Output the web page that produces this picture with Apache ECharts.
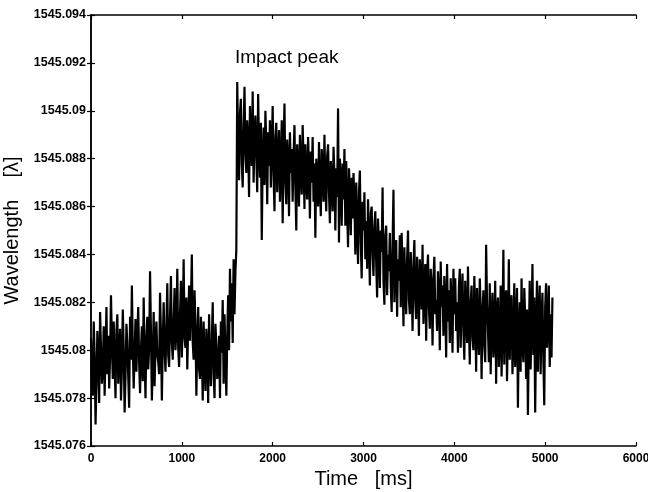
<!DOCTYPE html>
<html>
<head>
<meta charset="utf-8">
<script src="https://cdn.jsdelivr.net/npm/echarts@6/dist/echarts.min.js"></script>
<style>html,body{margin:0;padding:0;background:#fff;}#c{width:648px;height:492px;}</style>
</head>
<body>
<div id="c"></div>
<script>
// sampling interval of the read-off trace (ms)
const sampleMs = 10;

// Segment start times (ms) and wavelength values
const segA_start = 0;     // before impact (0 .. 1600 ms)
const segA = [
1545.0805,1545.0790,1545.0781,1545.0812,1545.0798,1545.0769,1545.0786,1545.0808,1545.0795,1545.0778,
1545.0816,1545.0801,1545.0786,1545.0793,1545.0810,1545.0781,1545.0799,1545.0818,1545.0790,1545.0806,
1545.0784,1545.0797,1545.0823,1545.0803,1545.0788,1545.0812,1545.0794,1545.0780,1545.0808,1545.0815,
1545.0786,1545.0798,1545.0809,1545.0779,1545.0792,1545.0817,1545.0800,1545.0774,1545.0789,1545.0811,
1545.0803,1545.0789,1545.0776,1545.0814,1545.0796,1545.0827,1545.0801,1545.0784,1545.0799,1545.0813,
1545.0791,1545.0806,1545.0818,1545.0795,1545.0782,1545.0800,1545.0810,1545.0787,1545.0822,1545.0797,
1545.0780,1545.0805,1545.0814,1545.0792,1545.0801,1545.0833,1545.0808,1545.0779,1545.0795,1545.0816,
1545.0785,1545.0802,1545.0812,1545.0798,1545.0795,1545.0790,1545.0824,1545.0807,1545.0779,1545.0803,
1545.0820,1545.0800,1545.0791,1545.0810,1545.0828,1545.0798,1545.0793,1545.0814,1545.0831,1545.0803,
1545.0796,1545.0812,1545.0826,1545.0800,1545.0808,1545.0834,1545.0801,1545.0793,1545.0815,1545.0829,
1545.0797,1545.0812,1545.0838,1545.0805,1545.0801,1545.0822,1545.0792,1545.0810,1545.0827,1545.0804,
1545.0819,1545.0840,1545.0803,1545.0796,1545.0825,1545.0810,1545.0781,1545.0804,1545.0818,1545.0792,
1545.0788,1545.0814,1545.0801,1545.0779,1545.0812,1545.0795,1545.0783,1545.0809,1545.0800,1545.0778,
1545.0815,1545.0797,1545.0785,1545.0804,1545.0820,1545.0790,1545.0780,1545.0811,1545.0802,1545.0788,
1545.0794,1545.0806,1545.0780,1545.0812,1545.0799,1545.0821,1545.0786,1545.0815,1545.0797,1545.0781,
1545.0806,1545.0823,1545.0800,1545.0834,1545.0812,1545.0828,1545.0803,1545.0838,1545.0815,1545.0833,
1545.0842];

const segB_start = 1610;  // impact peak and plateau (1610 .. 2800 ms)
const segB = [
1545.0912,1545.0884,1545.0871,1545.0899,1545.0905,1545.0878,1545.0868,1545.0893,1545.0910,1545.0882,
1545.0874,1545.0896,1545.0887,1545.0864,1545.0902,1545.0890,1545.0877,1545.0908,1545.0870,1545.0889,
1545.0898,1545.0881,1545.0866,1545.0907,1545.0884,1545.0872,1545.0895,1545.0846,1545.0880,1545.0893,
1545.0869,1545.0900,1545.0886,1545.0861,1545.0891,1545.0877,1545.0896,1545.0868,1545.0884,1545.0902,
1545.0873,1545.0858,1545.0889,1545.0895,1545.0866,1545.0880,1545.0892,1545.0862,1545.0876,1545.0896,
1545.0853,1545.0884,1545.0903,1545.0870,1545.0861,1545.0888,1545.0879,1545.0856,1545.0891,1545.0874,
1545.0884,1545.0862,1545.0881,1545.0894,1545.0868,1545.0850,1545.0886,1545.0877,1545.0860,1545.0890,
1545.0873,1545.0865,1545.0894,1545.0880,1545.0859,1545.0886,1545.0871,1545.0863,1545.0889,1545.0876,
1545.0855,1545.0883,1545.0870,1545.0889,1545.0862,1545.0878,1545.0847,1545.0880,1545.0872,1545.0860,
1545.0887,1545.0868,1545.0856,1545.0884,1545.0875,1545.0862,1545.0890,1545.0869,1545.0858,1545.0881,
1545.0886,1545.0866,1545.0853,1545.0879,1545.0870,1545.0858,1545.0885,1545.0873,1545.0850,1545.0876,
1545.0864,1545.0901,1545.0845,1545.0880,1545.0871,1545.0852,1545.0878,1545.0863,1545.0884,1545.0852];

const segC_start = 2810;  // decay (2810 .. 3400 ms)
const segC = [
1545.0879,1545.0858,1545.0843,1545.0876,1545.0867,1545.0848,1545.0872,1545.0855,1545.0874,1545.0862,
1545.0840,1545.0870,1545.0852,1545.0836,1545.0866,1545.0875,1545.0845,1545.0830,1545.0862,1545.0850,
1545.0866,1545.0838,1545.0854,1545.0834,1545.0863,1545.0845,1545.0827,1545.0857,1545.0860,1545.0840,
1545.0831,1545.0852,1545.0858,1545.0836,1545.0822,1545.0855,1545.0843,1545.0826,1545.0850,1545.0841,
1545.0868,1545.0829,1545.0819,1545.0848,1545.0852,1545.0823,1545.0840,1545.0833,1545.0849,1545.0827,
1545.0816,1545.0844,1545.0867,1545.0820,1545.0836,1545.0846,1545.0814,1545.0838,1545.0829,1545.0848];

const segD_start = 3410;  // slow recovery (3410 .. 4060 ms)
const segD = [
1545.0818,1545.0849,1545.0832,1545.0810,1545.0843,1545.0826,1545.0815,1545.0838,1545.0850,1545.0821,
1545.0815,1545.0841,1545.0828,1545.0808,1545.0835,1545.0846,1545.0820,1545.0813,1545.0839,1545.0826,
1545.0806,1545.0838,1545.0829,1545.0817,1545.0844,1545.0811,1545.0824,1545.0836,1545.0804,1545.0831,
1545.0840,1545.0818,1545.0809,1545.0834,1545.0826,1545.0802,1545.0830,1545.0839,1545.0815,1545.0821,
1545.0808,1545.0833,1545.0824,1545.0800,1545.0837,1545.0818,1545.0827,1545.0806,1545.0831,1545.0820,
1545.0797,1545.0836,1545.0812,1545.0825,1545.0803,1545.0830,1545.0819,1545.0799,1545.0834,1545.0815,
1545.0830,1545.0808,1545.0820,1545.0799,1545.0826,1545.0834];

const segE_start = 4070;  // tail (4070 .. 5080 ms)
const segE = [
1545.0801,1545.0822,1545.0832,1545.0808,1545.0796,1545.0829,1545.0815,1545.0803,1545.0835,1545.0812,
1545.0794,1545.0820,1545.0827,1545.0805,1545.0800,1545.0831,1545.0816,1545.0791,1545.0826,1545.0810,
1545.0798,1545.0830,1545.0818,1545.0788,1545.0814,1545.0825,1545.0802,1545.0795,1545.0844,1545.0820,
1545.0809,1545.0795,1545.0828,1545.0790,1545.0813,1545.0824,1545.0797,1545.0806,1545.0829,1545.0786,
1545.0816,1545.0822,1545.0793,1545.0805,1545.0827,1545.0789,1545.0811,1545.0842,1545.0794,1545.0819,
1545.0825,1545.0787,1545.0808,1545.0838,1545.0796,1545.0815,1545.0823,1545.0790,1545.0804,1545.0828,
1545.0793,1545.0812,1545.0826,1545.0776,1545.0809,1545.0820,1545.0791,1545.0830,1545.0803,1545.0795,
1545.0826,1545.0814,1545.0788,1545.0817,1545.0773,1545.0804,1545.0829,1545.0792,1545.0810,1545.0836,
1545.0798,1545.0822,1545.0774,1545.0808,1545.0829,1545.0791,1545.0815,1545.0827,1545.0790,1545.0812,
1545.0824,1545.0796,1545.0777,1545.0818,1545.0828,1545.0801,1545.0811,1545.0827,1545.0793,1545.0815,
1545.0797,1545.0822];

const xTicks = [0,1000,2000,3000,4000,5000,6000];
const yTicks = [1545.076,1545.078,1545.08,1545.082,1545.084,1545.086,1545.088,1545.09,1545.092,1545.094];

const segments = [[segA_start,segA],[segB_start,segB],[segC_start,segC],[segD_start,segD],[segE_start,segE]];
const trace = [];
segments.forEach(([t0,vals]) => vals.forEach((v,i) => trace.push([t0 + i*sampleMs, v])));

const chart = echarts.init(document.getElementById('c'), null, {renderer:'canvas'});
const axisLine = {show:true, lineStyle:{color:'#000', width:1.5}};
const tick = {show:true, inside:true, length:4, lineStyle:{color:'#000', width:1.2}};
const fmtY = v => parseFloat(Number(v).toFixed(3)).toString();
chart.setOption({
  animation:false,
  backgroundColor:'#fff',
  grid:{left:91, right:12, top:15, bottom:46, containLabel:false, outerBoundsMode:'none'},
  xAxis:[
    {type:'value', position:'bottom', min:xTicks[0], max:xTicks[xTicks.length-1], interval:1000,
     axisLine:axisLine, axisTick:tick, splitLine:{show:false},
     axisLabel:{color:'#000', fontFamily:'Arial, Liberation Sans', fontSize:12, fontWeight:'bold', margin:7,
       formatter:v => String(v)},
     name:'Time   [ms]', nameLocation:'middle', nameGap:20,
     nameTextStyle:{color:'#000', fontFamily:'Arial, Liberation Sans', fontSize:20}},
    {type:'value', position:'top', min:xTicks[0], max:xTicks[xTicks.length-1], interval:1000,
     axisLine:axisLine, axisTick:tick, axisLabel:{show:false}, splitLine:{show:false}}
  ],
  yAxis:[
    {type:'value', position:'left', min:yTicks[0], max:yTicks[yTicks.length-1], interval:0.002,
     axisLine:axisLine, axisTick:tick, splitLine:{show:false},
     axisLabel:{color:'#000', fontFamily:'Arial, Liberation Sans', fontSize:12.5, fontWeight:'bold', margin:5, formatter:fmtY},
     name:'Wavelength    [λ]', nameLocation:'middle', nameGap:52, nameRotate:90,
     nameTextStyle:{color:'#000', fontFamily:'Arial, Liberation Sans', fontSize:20}},
    {type:'value', position:'right', min:yTicks[0], max:yTicks[yTicks.length-1], interval:0.002,
     axisLine:axisLine, axisTick:tick, axisLabel:{show:false}, splitLine:{show:false}}
  ],
  graphic:[{type:'text', left:235, top:48,
    style:{text:'Impact peak', font:'19px Arial, "Liberation Sans"', fill:'#000'}}],
  series:[
    {type:'line', data:trace, showSymbol:false, silent:true, z:2,
     lineStyle:{color:'#000', width:2.2}}
  ]
});
</script>
</body>
</html>
